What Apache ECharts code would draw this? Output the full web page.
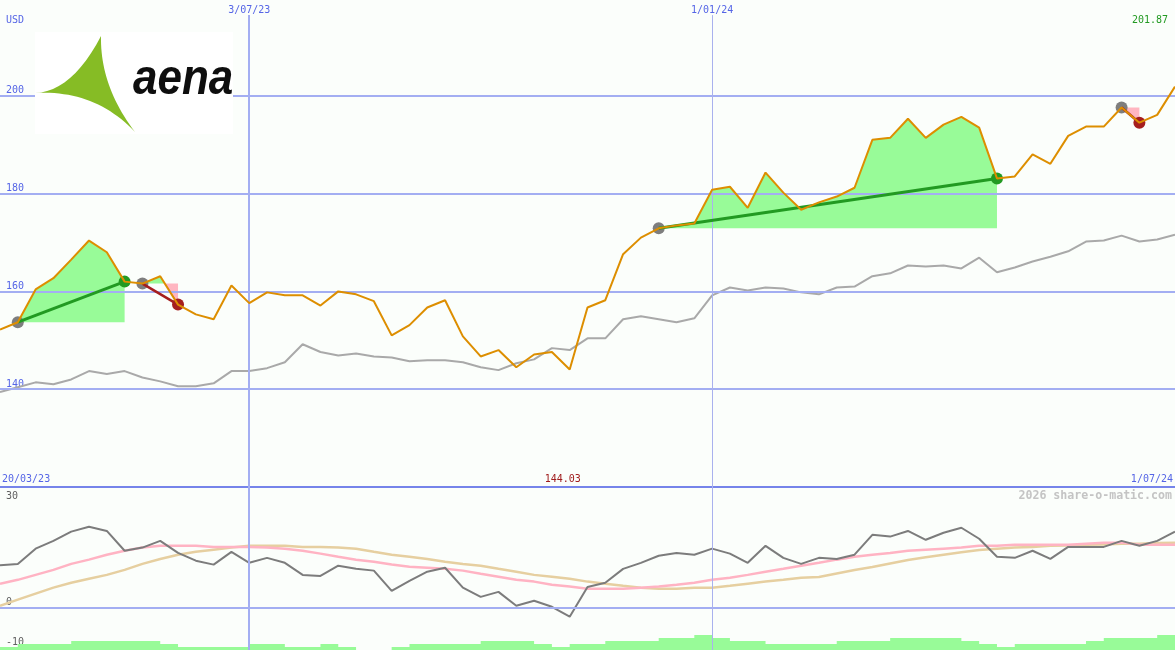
<!DOCTYPE html>
<html>
<head>
<meta charset="utf-8">
<script src="https://cdn.jsdelivr.net/npm/echarts@6/dist/echarts.min.js"></script>
<style>
html,body{margin:0;padding:0;background:#FBFEFB;}
#c{width:1175px;height:650px;}
</style>
</head>
<body>
<div id="c"></div>
<script>
// ---------- DATA ----------
// weekly closes (USD), first plotted week 27/03/23 ... last 1/07/24
const firstWeek = [2023, 2, 27];
const weekCount = 67;
const price = [152.2,153.7,160.4,162.7,166.5,170.4,168.0,162.0,161.6,163.1,157.3,155.3,154.3,161.2,157.6,159.8,159.2,159.2,157.1,160.0,159.4,158.0,151.0,153.1,156.7,158.2,150.8,146.7,148.0,144.5,147.1,147.6,144.03,156.7,158.2,167.6,171.0,172.9,173.5,173.9,180.8,181.4,177.1,184.3,180.2,176.7,178.2,179.4,181.2,191.0,191.4,195.3,191.4,194.1,195.7,193.5,183.1,183.5,188.0,186.1,191.8,193.7,193.7,197.6,194.5,196.1,201.87];
const benchmark = [139.4,140.4,141.4,141.0,142.0,143.7,143.1,143.7,142.4,141.6,140.6,140.6,141.2,143.7,143.7,144.3,145.5,149.2,147.6,146.9,147.3,146.7,146.5,145.7,145.9,145.9,145.5,144.5,143.9,145.3,146.1,148.4,148.0,150.4,150.4,154.3,154.9,154.3,153.7,154.5,159.2,160.8,160.2,160.8,160.6,159.8,159.4,160.8,161.0,163.1,163.7,165.3,165.1,165.3,164.7,166.9,163.9,164.9,166.1,167.1,168.2,170.2,170.4,171.4,170.2,170.6,171.6];
const oscillator = [11.9,12.3,16.6,18.8,21.4,22.8,21.6,16.0,16.9,18.8,15.4,13.2,12.1,15.7,12.6,14.0,12.6,9.2,8.9,11.8,10.9,10.4,4.7,7.5,10.1,11.2,5.6,3.0,4.4,0.5,1.9,0.2,-2.6,5.8,7.0,10.9,12.6,14.6,15.4,14.9,16.6,15.2,12.6,17.4,14.0,12.3,14.0,13.7,14.9,20.5,20.0,21.6,19.1,21.1,22.5,19.4,14.3,14.0,16.0,13.7,17.1,17.1,17.1,18.8,17.4,18.8,21.4];
const signalFast = [6.7,7.8,9.2,10.6,12.3,13.5,14.9,16.0,16.9,17.4,17.4,17.4,17.1,17.1,17.1,16.9,16.6,16.0,15.2,14.3,13.5,12.9,12.1,11.5,11.2,10.9,10.4,9.5,8.7,7.8,7.3,6.4,5.9,5.3,5.3,5.3,5.6,5.9,6.4,7.0,7.8,8.4,9.2,10.1,10.9,11.8,12.6,13.5,14.3,14.9,15.4,16.0,16.3,16.6,16.9,17.4,17.4,17.7,17.7,17.7,17.7,18.0,18.3,18.3,17.7,17.7,17.7];
const signalSlow = [0.5,2.2,3.9,5.6,7.0,8.1,9.2,10.6,12.3,13.7,14.9,15.7,16.3,16.9,17.4,17.4,17.4,17.1,17.1,16.9,16.6,15.7,14.9,14.3,13.7,12.9,12.3,11.8,10.9,10.1,9.2,8.7,8.1,7.3,6.7,6.1,5.6,5.3,5.3,5.6,5.6,6.1,6.7,7.3,7.8,8.4,8.6,9.6,10.6,11.4,12.4,13.4,14.2,14.9,15.6,16.2,16.6,16.9,17.1,17.4,17.5,17.7,17.8,18.0,18.0,18.2,18.3];
const volume = [1,2,2,2,3,3,3,3,3,2,1,1,1,1,2,2,1,1,2,1,0,0,1,2,2,2,2,3,3,3,2,1,2,2,3,3,3,4,4,5,4,3,3,2,2,2,2,3,3,3,4,4,4,4,3,2,1,2,2,2,2,3,4,4,4,5,5];
const tradeEntries = [1, 8, 37, 63];
const tradeExits = [7, 10, 56, 64];
const priceTicks = [140, 160, 180, 200];
const oscTicks = [30, 0, -10];
const xTickLabels = ['3/07/23', '1/01/24'];
const rangeLabels = ['20/03/23', '1/07/24'];
const currency = 'USD';
const watermark = '2026 share-o-matic.com';

// week categories
const weeks = [];
for (let k = 0; k < weekCount; k++) {
  const d = new Date(Date.UTC(firstWeek[0], firstWeek[1], firstWeek[2] + 7 * k));
  weeks.push(d.getUTCDate() + '/' + String(d.getUTCMonth() + 1).padStart(2, '0') + '/' + String(d.getUTCFullYear() % 100).padStart(2, '0'));
}
const last = weeks.length - 1;

// ---------- STYLE ----------
const MONO = '"DejaVu Sans Mono", monospace';
const BLUE_TXT = '#5565E6';
const GRID_C = '#A3AEF2';
const GREEN_FILL = '#98FB98';
const PINK_FILL = '#FFB6C1';
const WIN_C = '#229A22';
const LOSS_C = '#A51E1E';

const chart = echarts.init(document.getElementById('c'));

const tradeData = tradeEntries.map((e, k) => [e, price[e], tradeExits[k], price[tradeExits[k]]]);

const option = {
  backgroundColor: '#FBFEFB',
  animation: false,
  grid: [
    {left: 0, right: 0, top: -2, height: 489, containLabel: false, outerBoundsMode: 'none'},
    {left: 0, right: 0, top: 487, height: 163, containLabel: false, outerBoundsMode: 'none'}
  ],
  xAxis: [
    {gridIndex: 0, type: 'category', data: weeks, boundaryGap: false, position: 'top',
     axisLine: {show: false}, axisTick: {show: false}, splitLine: {show: false},
     axisLabel: {inside: true, margin: 7, interval: (i, v) => xTickLabels.includes(v),
       color: BLUE_TXT, fontFamily: MONO, fontSize: 10}},
    {gridIndex: 0, type: 'category', data: weeks, boundaryGap: false, position: 'bottom',
     axisLine: {show: true, onZero: false, lineStyle: {color: '#7684EA', width: 2}},
     axisTick: {show: false}, splitLine: {show: false},
     axisLabel: {inside: true, margin: 3, interval: (i) => i === 0 || i === last,
       formatter: (v, i) => i === 0 ? rangeLabels[0] : rangeLabels[1],
       alignMinLabel: 'left', alignMaxLabel: 'right', padding: [0, 2, 0, 2],
       color: BLUE_TXT, fontFamily: MONO, fontSize: 10}},
    {gridIndex: 1, type: 'category', data: weeks, boundaryGap: false, show: false}
  ],
  yAxis: [
    {gridIndex: 0, type: 'value', min: 120, max: 220, interval: 20,
     axisLine: {show: false}, axisTick: {show: false}, splitLine: {show: false},
     axisLabel: {inside: true, margin: 6, verticalAlign: 'bottom', showMinLabel: false, showMaxLabel: false,
       formatter: v => priceTicks.includes(v) ? String(v) : '',
       color: BLUE_TXT, fontFamily: MONO, fontSize: 10}},
    {gridIndex: 1, type: 'value', min: -12, max: 34, interval: 2,
     axisLine: {show: false}, axisTick: {show: false}, splitLine: {show: false},
     axisLabel: {inside: true, margin: 6, verticalAlign: 'bottom',
       formatter: v => oscTicks.includes(v) ? (v < 0 ? '{lo|' + v + '}' : String(v)) : '',
       rich: {lo: {lineHeight: 2, color: '#606060', fontFamily: MONO, fontSize: 10}},
       color: '#606060', fontFamily: MONO, fontSize: 10}},
    {gridIndex: 1, type: 'value', min: 0, max: 54, show: false}
  ],
  series: [
    // benchmark line + price grid lines + vertical date lines
    {type: 'line', xAxisIndex: 0, yAxisIndex: 0, data: benchmark, z: 2, silent: true,
     showSymbol: false, lineStyle: {color: '#A9A9A9', width: 2},
     markLine: {symbol: 'none', silent: true, label: {show: false}, animation: false,
       data: priceTicks.map(v => ({yAxis: v, lineStyle: {color: GRID_C, width: 2, type: 'solid'}})).concat(
         xTickLabels.map((lab, k) => [
           {coord: [lab, 216.5], lineStyle: {color: k === 0 ? GRID_C : '#A9B1EE', width: k === 0 ? 2 : 1, type: 'solid'}},
           {coord: [lab, 120]}
         ]))}},
    // trade gain / loss fills
    {type: 'custom', xAxisIndex: 0, yAxisIndex: 0, z: 3, silent: true,
     data: tradeData, encode: {x: [0, 2], y: [1, 3]},
     renderItem: (params, api) => {
       const e = tradeEntries[params.dataIndex], x = tradeExits[params.dataIndex];
       const lvl = price[e];
       const start = api.coord([e, lvl]);
       const up = [start], dn = [start];
       for (let i = e; i <= x; i++) {
         if (i > e) {
           const a = price[i - 1] - lvl, b = price[i] - lvl;
           if (a * b < 0) {
             const t = a / (a - b);
             const p0 = api.coord([i - 1, lvl]), p1 = api.coord([i, lvl]);
             const c = [p0[0] + t * (p1[0] - p0[0]), p0[1]];
             up.push(c); dn.push(c);
           }
         }
         up.push(api.coord([i, Math.max(price[i], lvl)]));
         dn.push(api.coord([i, Math.min(price[i], lvl)]));
       }
       const end = api.coord([x, lvl]);
       up.push(end); dn.push(end);
       return {type: 'group', children: [
         {type: 'polygon', shape: {points: up}, style: {fill: GREEN_FILL}},
         {type: 'polygon', shape: {points: dn}, style: {fill: PINK_FILL}}
       ]};
     }},
    // trade markers
    {type: 'scatter', xAxisIndex: 0, yAxisIndex: 0, z: 4, silent: true, symbolSize: 12,
     data: [].concat(
       tradeEntries.map(e => ({value: [e, price[e]], itemStyle: {color: '#7E7E7E', opacity: 1}})),
       tradeExits.map((x, k) => ({value: [x, price[x]], itemStyle: {opacity: 1, color: price[x] > price[tradeEntries[k]] ? WIN_C : LOSS_C}}))
     )},
    // trade lines
    {type: 'custom', xAxisIndex: 0, yAxisIndex: 0, z: 5, silent: true,
     data: tradeData, encode: {x: [0, 2], y: [1, 3]},
     renderItem: (params, api) => {
       const d = tradeData[params.dataIndex];
       const a = api.coord([d[0], d[1]]), b = api.coord([d[2], d[3]]);
       const win = d[3] > d[1];
       return {type: 'line', shape: {x1: a[0], y1: a[1], x2: b[0], y2: b[1]},
         style: {stroke: win ? WIN_C : LOSS_C, lineWidth: win ? 3 : 2.5}};
     }},
    // price
    {type: 'line', xAxisIndex: 0, yAxisIndex: 0, data: price, z: 6, silent: true,
     showSymbol: false, lineStyle: {color: '#DD8E00', width: 2}},
    // lower panel
    {type: 'line', xAxisIndex: 2, yAxisIndex: 1, data: signalSlow, z: 1, silent: true,
     showSymbol: false, lineStyle: {color: '#E6CFA0', width: 2.5},
     markLine: {symbol: 'none', silent: true, label: {show: false}, animation: false,
       data: [
         {yAxis: 0, lineStyle: {color: GRID_C, width: 2, type: 'solid'}},
         {xAxis: xTickLabels[0], lineStyle: {color: GRID_C, width: 2, type: 'solid'}},
         {xAxis: xTickLabels[1], lineStyle: {color: '#A9B1EE', width: 1, type: 'solid'}}
       ]}},
    {type: 'line', xAxisIndex: 2, yAxisIndex: 2, data: volume, z: 2, silent: true, step: 'end',
     showSymbol: false, lineStyle: {width: 0}, areaStyle: {color: GREEN_FILL, opacity: 1}},
    {type: 'line', xAxisIndex: 2, yAxisIndex: 1, data: signalFast, z: 3, silent: true,
     showSymbol: false, lineStyle: {color: '#FFB3C3', width: 2.5}},
    {type: 'line', xAxisIndex: 2, yAxisIndex: 1, data: oscillator, z: 4, silent: true,
     showSymbol: false, lineStyle: {color: '#7C7C7C', width: 2}}
  ]
};
chart.setOption(option);

// text overlays that depend on the data
const minVal = Math.min(...price);
const minIdx = price.indexOf(minVal);
const minX = chart.convertToPixel({xAxisIndex: 0}, minIdx);

// logo outline (concave triangle)
function quadPts(p0, c, p1, n) {
  const pts = [];
  for (let k = 0; k < n; k++) {
    const t = k / n, u = 1 - t;
    pts.push([u * u * p0[0] + 2 * u * t * c[0] + t * t * p1[0], u * u * p0[1] + 2 * u * t * c[1] + t * t * p1[1]]);
  }
  return pts;
}
const LV = [35, 93], TV = [101, 36], BV = [135, 132];
const logoPts = [].concat(quadPts(LV, [72, 91.5], TV, 24), quadPts(TV, [100, 86], BV, 24), quadPts(BV, [95, 89.5], LV, 24));

chart.setOption({
  graphic: [
    {type: 'text', x: 6, y: 20, z: 20, style: {text: currency, fill: BLUE_TXT, font: '10px ' + MONO, verticalAlign: 'middle'}},
    {type: 'text', x: 1168, y: 20, z: 20, style: {text: price[last].toFixed(2), fill: WIN_C, font: '10px ' + MONO, align: 'right', verticalAlign: 'middle'}},
    {type: 'text', x: minX - 7, y: 479, z: 20, style: {text: minVal.toFixed(2), fill: '#A01C1C', font: '10px ' + MONO, align: 'center', verticalAlign: 'middle'}},
    {type: 'text', x: 1172, y: 496, z: 20, style: {text: watermark, fill: '#C4C4C4', font: 'bold 11.6px ' + MONO, align: 'right', verticalAlign: 'middle'}},
    // logo
    {type: 'rect', x: 35, y: 32, z: 20, shape: {width: 198, height: 102}, style: {fill: '#FFFFFF'}},
    {type: 'polygon', z: 21, shape: {points: logoPts}, style: {fill: '#86BC25'}},
    {type: 'text', x: 133, y: 80, z: 21, scaleX: 0.88, style: {text: 'aena', fill: '#0E0E0E', font: 'italic bold 50px "Liberation Sans", Arial, sans-serif', verticalAlign: 'middle'}}
  ]
});
</script>
</body>
</html>
